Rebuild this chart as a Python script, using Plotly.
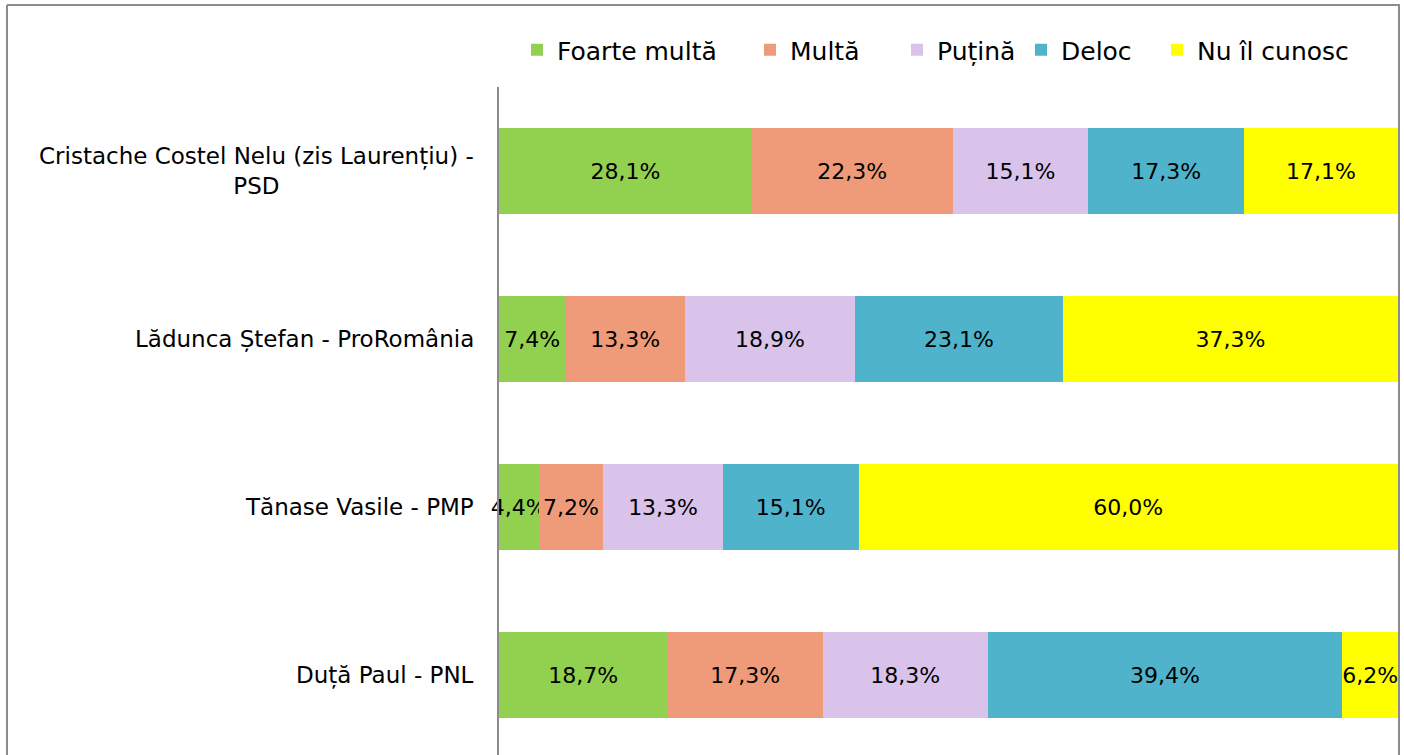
import plotly.graph_objects as go

categories = [
    "Cristache Costel Nelu (zis Laurențiu) -<br>PSD",
    "Lădunca Ștefan - ProRomânia",
    "Tănase Vasile - PMP",
    "Duță Paul - PNL",
]
series_names = ["Foarte multă", "Multă", "Puțină", "Deloc", "Nu îl cunosc"]
foarte_multa = [28.1, 7.4, 4.4, 18.7]
multa = [22.3, 13.3, 7.2, 17.3]
putina = [15.1, 18.9, 13.3, 18.3]
deloc = [17.3, 23.1, 15.1, 39.4]
nu_il_cunosc = [17.1, 37.3, 60.0, 6.2]

series_values = [foarte_multa, multa, putina, deloc, nu_il_cunosc]
colors = ["#92D050", "#EF9B79", "#D9C3EA", "#50B3CC", "#FFFF00"]
legend_marker_x = [537, 770, 917, 1041, 1177]

FONT = "DejaVu Sans"
W, H = 1404, 755
ML, MR, MT, MB = 499, 6, 87, 0
ph = H - MT - MB
pw = W - ML - MR


def px(x):
    return (x - ML) / pw


def py(y):
    return (H - MB - y) / ph


fig = go.Figure()
legend_layout = {}
for i, (name, vals, col) in enumerate(zip(series_names, series_values, colors)):
    lname = "legend" if i == 0 else f"legend{i + 1}"
    fig.add_trace(go.Bar(
        name=name,
        y=categories,
        x=vals,
        orientation="h",
        legend=lname,
        marker=dict(color=col, line=dict(width=0)),
        text=[f"{v:.1f}%".replace(".", ",") for v in vals],
        textposition="inside",
        insidetextanchor="middle",
        textangle=0,
        constraintext="none",
        textfont=dict(family=FONT, size=22, color="#000000"),
        cliponaxis=False,
    ))
    legend_layout[lname] = dict(
        orientation="h", x=px(legend_marker_x[i] - 20), xanchor="left",
        y=py(50), yanchor="middle",
        font=dict(family=FONT, size=25, color="#000000"),
        itemclick=False, bgcolor="rgba(0,0,0,0)",
    )

# category labels as centred multi-line annotations
for c in categories:
    fig.add_annotation(
        x=-0.026, xref="paper", y=c, yref="y",
        text=c, showarrow=False, xanchor="right", align="center",
        font=dict(family=FONT, size=23, color="#000000"),
    )

# chart frame
frame = dict(color="#8C8C8C", width=2)
fig.add_shape(type="line", xref="paper", yref="paper", x0=px(7), x1=px(1400), y0=py(5), y1=py(5), line=frame)
fig.add_shape(type="line", xref="paper", yref="paper", x0=px(7), x1=px(7), y0=py(5), y1=py(760), line=frame)
fig.add_shape(type="line", xref="paper", yref="paper", x0=px(1399), x1=px(1399), y0=py(5), y1=py(760), line=frame)

fig.update_layout(
    width=W, height=H,
    barmode="stack", barnorm="percent", bargap=0.49,
    margin=dict(l=ML, r=MR, t=MT, b=MB),
    plot_bgcolor="white", paper_bgcolor="white",
    showlegend=True,
    xaxis=dict(range=[0, 100], showgrid=False, zeroline=False, showticklabels=False, showline=False, fixedrange=True),
    yaxis=dict(
        range=[3.476, -0.5], showgrid=False, zeroline=False, showticklabels=False,
        showline=True, linecolor="#8C8C8C", linewidth=2, ticks="", fixedrange=True,
    ),
    **legend_layout,
)

fig.write_html("out.html", post_script="document.body.style.margin='0';",
               config={"displayModeBar": False})
